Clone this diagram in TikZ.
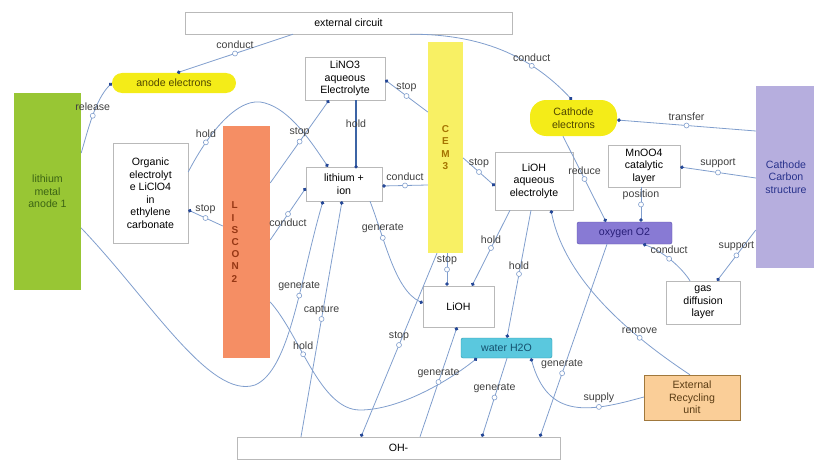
\documentclass[tikz,border=0pt]{standalone}
\usepackage{fontspec}
\setmainfont{Liberation Sans}
\usepackage{tikz}
\usepackage{xcolor}
\definecolor{mapline}{RGB}{128,158,205}
\definecolor{mapdot}{RGB}{35,70,150}
\definecolor{holdblue}{RGB}{60,100,165}
\definecolor{boxgray}{RGB}{185,185,185}
\definecolor{anodegreen}{RGB}{152,198,52}
\definecolor{pillyellow}{RGB}{244,236,24}
\definecolor{cemyellow}{RGB}{248,240,100}
\definecolor{sepaorange}{RGB}{245,142,100}
\definecolor{carbonpurple}{RGB}{182,174,222}
\definecolor{oxypurple}{RGB}{136,122,212}
\definecolor{watercyan}{RGB}{90,200,222}
\definecolor{recycpeach}{RGB}{250,206,152}
\usetikzlibrary{arrows.meta,calc,positioning}

\begin{document}
\begin{tikzpicture}[x=1pt,y=-1pt,
    font=\fontsize{10.6}{12.5}\selectfont,
    concept/.style={draw=boxgray, fill=white, align=center, inner sep=1pt},
    vtext/.style={font=\fontsize{10}{12.2}\selectfont\bfseries},
    link/.style={draw=mapline, line width=0.8pt, -{Circle[length=3.6pt,color=mapdot]}},
    midmark/.style={circle, draw=mapline, fill=white, line width=0.6pt, inner sep=0pt, minimum size=5pt},
    lbl/.style={text=black!75, inner sep=1pt, label distance=0.5pt}]
    \useasboundingbox (0,0) rectangle (814,460);

    % Concepts
    \node[concept, minimum width=327, minimum height=22] (ext) at (348.5,23) {external circuit};
    \node[concept, fill=pillyellow, draw=none, rounded corners=10, minimum width=124, minimum height=20, text={rgb,255:red,80;green,70;blue,0}] (anodee) at (174,83) {anode electrons};
    \node[concept, fill=anodegreen, draw=none, minimum width=67, minimum height=197, text={rgb,255:red,60;green,100;blue,20}] (anode) at (47.5,191.5) {lithium\\metal\\anode 1};
    \node[concept, minimum width=75, minimum height=100] (organic) at (150.5,193) {Organic\\electrolyt\\e LiClO4\\in\\ethylene\\carbonate};
    \node[concept, vtext, fill=sepaorange, draw=none, minimum width=47, minimum height=232, text width=30, align=left, text={rgb,255:red,150;green,55;blue,20}] (sepa) at (246.5,242) {L\\I\\S\\C\\O\\N\\2};
    \node[concept, minimum width=80, minimum height=43] (lino) at (345,78.5) {LiNO3\\aqueous\\Electrolyte};
    \node[concept, vtext, fill=cemyellow, draw=none, minimum width=35, minimum height=211, text={rgb,255:red,165;green,115;blue,0}] (cem) at (445.5,147.5) {C\\E\\M\\3};
    \node[concept, minimum width=76, minimum height=34] (liion) at (344,184) {lithium +\\ion};
    \node[concept, minimum width=78, minimum height=58] (liohaq) at (534,181) {LiOH\\aqueous\\electrolyte};
    \node[concept, fill=pillyellow, draw=none, rounded corners=16, minimum width=87, minimum height=36, text={rgb,255:red,80;green,70;blue,0}] (cathe) at (573.5,118) {Cathode\\electrons};
    \node[concept, minimum width=72, minimum height=42] (mno) at (644,166) {MnOO4\\catalytic\\layer};
    \node[concept, fill=carbonpurple, draw=none, minimum width=60, minimum height=182, text={rgb,255:red,40;green,50;blue,140}] (carbon) at (786,177) {Cathode\\Carbon\\structure};
    \node[concept, fill=oxypurple, draw={rgb,255:red,90;green,80;blue,170}, rounded corners=2, minimum width=95, minimum height=22, text={rgb,255:red,40;green,30;blue,120}] (oxy) at (624.5,233) {oxygen O2};
    \node[concept, minimum width=74, minimum height=43] (gdl) at (703,302.5) {gas\\diffusion\\layer};
    \node[concept, minimum width=71, minimum height=41] (lioh) at (458.5,306.5) {LiOH};
    \node[concept, fill=watercyan, draw={rgb,255:red,40;green,150;blue,170}, rounded corners=2, minimum width=91, minimum height=20, text={rgb,255:red,20;green,80;blue,110}] (water) at (506.5,348) {water H2O};
    \node[concept, fill=recycpeach, draw={rgb,255:red,160;green,120;blue,60}, minimum width=96, minimum height=45, text={rgb,255:red,90;green,60;blue,20}] (recyc) at (692,397.5) {External\\Recycling\\unit};
    \node[concept, minimum width=323, minimum height=22] (oh) at (398.5,448) {OH-};

    % Anode side
    \draw[link] (293,0 |- ext.south) -- node[midmark, label={[lbl]above:conduct}] {} (177,0 |- anodee.north);
    \draw[link] (anode.east |- 0,153) .. controls (88,130) and (95,100) .. node[midmark, label={[lbl]above:release}] {} (anodee.west);
    \draw[link] (organic.east |- 0,172) .. controls (210,130) and (240,95) .. node[midmark, pos=.25, label={[lbl]above:hold}] {} (265,103) .. controls (290,110) and (310,140) .. (328,0 |- liion.north);
    \draw[link] (sepa.west |- 0,226) -- node[midmark, label={[lbl]above:stop}] {} (organic.east |- 0,210);
    \draw[link] (sepa.east |- 0,183) -- node[midmark, label={[lbl]above:stop}] {} (329,0 |- lino.south);
    \draw[link] (sepa.east |- 0,240) -- node[midmark, label={[lbl]below:conduct}] {} (liion.west |- 0,188);
    \draw[link] (anode.east |- 0,228) .. controls (150,300) and (210,400) .. (255,385) .. controls (290,370) and (300,280) .. node[midmark, pos=.6, label={[lbl]above:generate}] {} (323,0 |- liion.south);
    \draw[link] (301,0 |- oh.north) -- node[midmark, label={[lbl]above:capture}] {} (342,0 |- liion.south);
    \draw[link] (sepa.east |- 0,302) .. controls (300,335) and (320,410) .. node[midmark, pos=.4, label={[lbl]above:hold}] {} (360,410) .. controls (400,410) and (450,380) .. (477,0 |- water.south);

    % Middle
    \draw[holdblue, line width=2.2pt] (356,0 |- lino.south) -- node[lbl, pos=.35] {hold} (356,0 |- liion.north);
    \fill[mapdot] (356,0 |- liion.north) circle (1.8pt);
    \draw[link] (cem.west |- 0,112) -- node[midmark, label={[lbl]above:stop}] {} (lino.east |- 0,80);
    \draw[link] (cem.west |- 0,185) -- node[midmark, label={[lbl]above:conduct}] {} (liion.east |- 0,186);
    \draw[link] (cem.east |- 0,158) -- node[midmark, label={[lbl]above:stop}] {} (liohaq.west |- 0,186);
    \draw[link] (370,0 |- liion.south) .. controls (385,240) and (395,290) .. node[midmark, pos=.3, label={[lbl]above:generate}] {} (lioh.west |- 0,303);
    \draw[link] (437,0 |- cem.south) -- node[midmark, label={[lbl]above:stop}] {} (361,0 |- oh.north);
    \draw[link] (447,0 |- cem.south) -- node[midmark, label={[lbl]above:stop}] {} (447,0 |- lioh.north);
    \draw[link] (510,0 |- liohaq.south) -- node[midmark, label={[lbl]above:hold}] {} (472,0 |- lioh.north);
    \draw[link] (531,0 |- liohaq.south) -- node[midmark, label={[lbl]above:hold}] {} (507,0 |- water.north);
    \draw[link] (420,0 |- oh.north) -- node[midmark, label={[lbl]above:generate}] {} (457,0 |- lioh.south);
    \draw[link] (507,0 |- water.south) -- node[midmark, label={[lbl]above:generate}] {} (482,0 |- oh.north);

    % Cathode side
    \draw[link] (410,0 |- ext.south) .. controls (480,34) and (530,55) .. node[midmark, pos=.7, label={[lbl]above:conduct}] {} (572,0 |- cathe.north);
    \draw[link] (carbon.west |- 0,131) -- node[midmark, label={[lbl]above:transfer}] {} (cathe.east |- 0,120);
    \draw[link] (carbon.west |- 0,178) -- node[midmark, label={[lbl]above:support}] {} (mno.east |- 0,167);
    \draw[link] (carbon.west |- 0,230) -- node[midmark, label={[lbl]above:support}] {} (717,0 |- gdl.north);
    \draw[link] (563,0 |- cathe.south) -- node[midmark, label={[lbl]above:reduce}] {} (606,0 |- oxy.north);
    \draw[link] (641,0 |- mno.south) -- node[midmark, label={[lbl]above:position}] {} (641,0 |- oxy.north);
    \draw[link] (690,0 |- gdl.north) .. controls (680,265) and (660,250) .. node[midmark, label={[lbl]above:conduct}] {} (643,0 |- oxy.south);
    \draw[link] (607,0 |- oxy.south) -- node[midmark, pos=.67, label={[lbl]above:generate}] {} (540,0 |- oh.north);
    \draw[link] (recyc.west |- 0,397) .. controls (590,412) and (548,420) .. node[midmark, pos=.3, label={[lbl]above:supply}] {} (531,0 |- water.south);
    \draw[link] (690,0 |- recyc.north) .. controls (630,335) and (565,280) .. node[midmark, pos=.28, label={[lbl]above:remove}] {} (551,0 |- liohaq.south);
\end{tikzpicture}
\end{document}
